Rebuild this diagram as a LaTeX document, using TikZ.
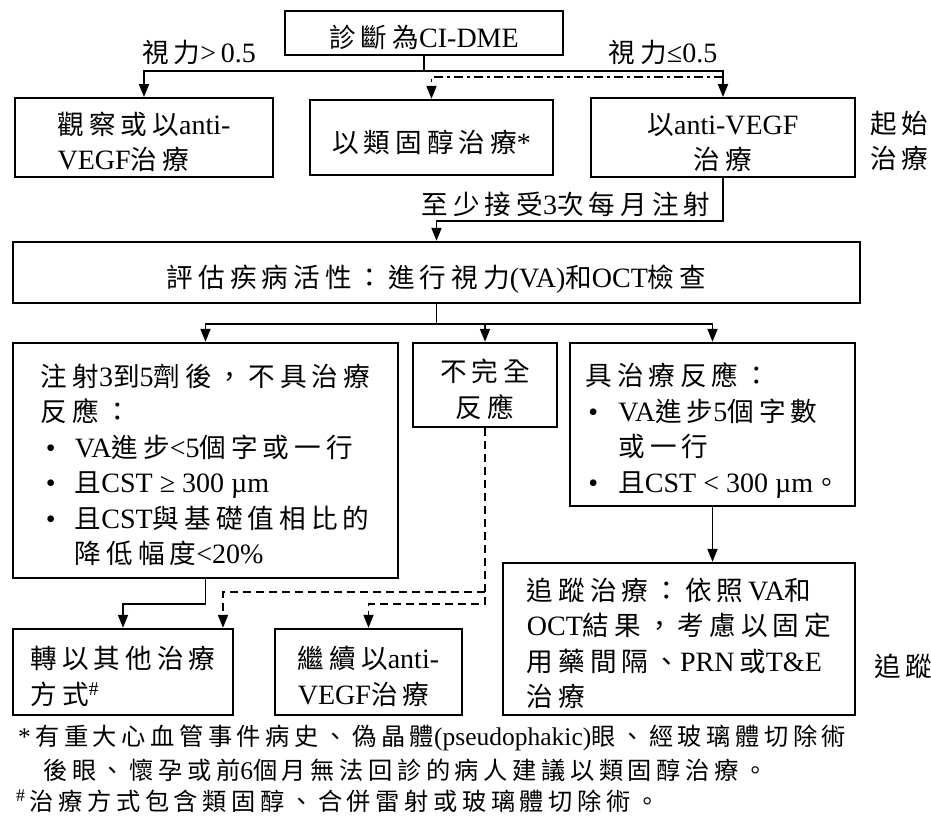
\documentclass[tikz,border=0pt]{standalone}
\usepackage{fontspec}
\setmainfont{Liberation Serif}
\newfontfamily\cjkfont[Scale=0.95,LetterSpace=19]{Noto Sans CJK TC}
\newcommand\zh[1]{{\cjkfont #1}}
\newcommand\tp{\rule{0pt}{36pt}}
\newcommand\bt{\rule[-7pt]{0pt}{7pt}}
\usetikzlibrary{arrows.meta,calc}
\begin{document}
\begin{tikzpicture}[x=1pt,y=-1pt,
  font=\fontsize{28}{35.5}\selectfont,
  box/.style={draw, line width=2.4pt, inner sep=0pt, align=left},
  conn/.style={line width=1.9pt},
  arr/.style={conn, -{Triangle[length=13pt,width=10pt]}},
  dsh/.style={arr, dash pattern=on 8pt off 5pt},
  dd/.style={arr, dash pattern=on 9pt off 4pt on 3pt off 4pt},
  plain/.style={inner sep=0pt, align=left}
]
\useasboundingbox (0,0) rectangle (931,816);

% row 0
\node[box, minimum width=278pt, minimum height=44pt] (top) at (424,33) {\tp\zh{診斷為}CI-DME\bt};
\node[plain] (gt) at (199,52) {\zh{視力}>\,0.5};
\node[plain] (le) at (663,52) {\zh{視力}≤0.5};

% row 1
\node[box, minimum width=258pt, minimum height=75pt] (r1L) at (144,137.5) {\tp\zh{觀察或以}anti-\\VEGF\zh{治療}\bt};
\node[box, minimum width=243pt, minimum height=75pt] (r1M) at (431.5,137.5) {\tp\zh{以類固醇治療}*\bt};
\node[box, align=center, minimum width=264pt, minimum height=75pt] (r1R) at (723,137.5) {\tp\zh{以}anti-VEGF\\\zh{治療}\bt};
\node[plain, anchor=west] (start) at (870,141) {\zh{起始}\\\zh{治療}};

% row 2
\node[plain] (inj) at (566,204) {\zh{至少接受}3\zh{次每月注射}};
\node[box, minimum width=847pt, minimum height=61pt] (eval) at (436.5,272.5) {\tp\zh{評估疾病活性：進行視力}(VA)\zh{和}OCT\zh{檢查}\bt};

% row 3
\node[box, minimum width=385pt, minimum height=235pt] (r3L) at (205.5,460.5)
 {\tp\zh{注射}3\zh{到}5\zh{劑後，不具治療}\\
  \zh{反應：}\\
  \hspace*{5pt}\makebox[29pt][l]{•}VA\zh{進步}<5\zh{個字或一行}\\
  \hspace*{5pt}\makebox[29pt][l]{•}\zh{且}CST ≥ 300 µm\\
  \hspace*{5pt}\makebox[29pt][l]{•}\zh{且}CST\zh{與基礎值相比的}\\
  \hspace*{34pt}\zh{降低幅度}<20\%\bt};
\node[box, align=center, minimum width=144pt, minimum height=84pt] (r3M) at (485,385) {\tp\zh{不完全}\\\zh{反應}\bt};
\node[box, minimum width=285pt, minimum height=163pt] (r3R) at (712.5,424.5)
 {\tp\zh{具治療反應：}\\
  \hspace*{3pt}\makebox[30pt][l]{•}VA\zh{進步}5\zh{個字數}\\
  \hspace*{33pt}\zh{或一行}\\
  \hspace*{3pt}\makebox[30pt][l]{•}\zh{且}CST < 300 µm\zh{。}\bt};

% row 4
\node[box, minimum width=352pt, minimum height=152pt] (r4R) at (679,639)
 {\tp\zh{追蹤治療：依照}\,VA\zh{和}\\
  OCT\zh{結果，考慮以固定}\\
  \zh{用藥間隔、}PRN\,\zh{或}T\&E\\
  \zh{治療}\bt};
\node[plain, anchor=west] (follow) at (874,666) {\zh{追蹤}};
\node[box, minimum width=220pt, minimum height=86pt] (r4L) at (123,672) {\tp\zh{轉以其他治療}\\\zh{方式}\textsuperscript{\#}\bt};
\node[box, minimum width=187pt, minimum height=86pt] (r4M) at (368.5,672) {\tp\zh{繼續以}anti-\\VEGF\zh{治療}\bt};

% footnotes
\begin{scope}[font=\fontsize{25.5}{32}\selectfont]
\node[plain, anchor=west] (fn1) at (18,738) {*\,\zh{有重大心血管事件病史、偽晶體}(pseudophakic)\zh{眼、經玻璃體切除術}};
\node[plain, anchor=west] (fn2) at (43,770) {\zh{後眼、懷孕或前}6\zh{個月無法回診的病人建議以類固醇治療。}};
\node[plain, anchor=west] (fn3) at (16,801) {\textsuperscript{\#}\,\zh{治療方式包含類固醇、合併雷射或玻璃體切除術。}};
\end{scope}

% connectors
\draw[conn] (top.south) -- ++(0,15) coordinate (j1);
\draw[arr] (j1) -| (r1L.north);
\draw[arr] (j1) -| (r1R.north);
\draw[dd] ([yshift=20pt]r1R.north) -| (r1M.north);
\draw[arr] (r1R.south) |- ([yshift=20pt]eval.north) -- (eval.north);
\draw[conn] (eval.south) -- ++(0,20) coordinate (j2);
\draw[arr] (j2) -| (r3L.north);
\draw[arr] (j2) -| (r3M.north);
\draw[arr] (j2) -| (r3R.north);
\draw[arr] (r3R.south) -- (r3R.south |- r4R.north);
\draw[arr] (r3L.south) |- ([yshift=24pt]r4L.north) -- (r4L.north);
\draw[dsh] (r3M.south) |- ([yshift=24pt]r4M.north) -- (r4M.north);
\draw[dsh] ($(r3M.south |- r4L.north)+(0,-36)$) -| ($(r4L.north)+(100,0)$);
\end{tikzpicture}
\end{document}
